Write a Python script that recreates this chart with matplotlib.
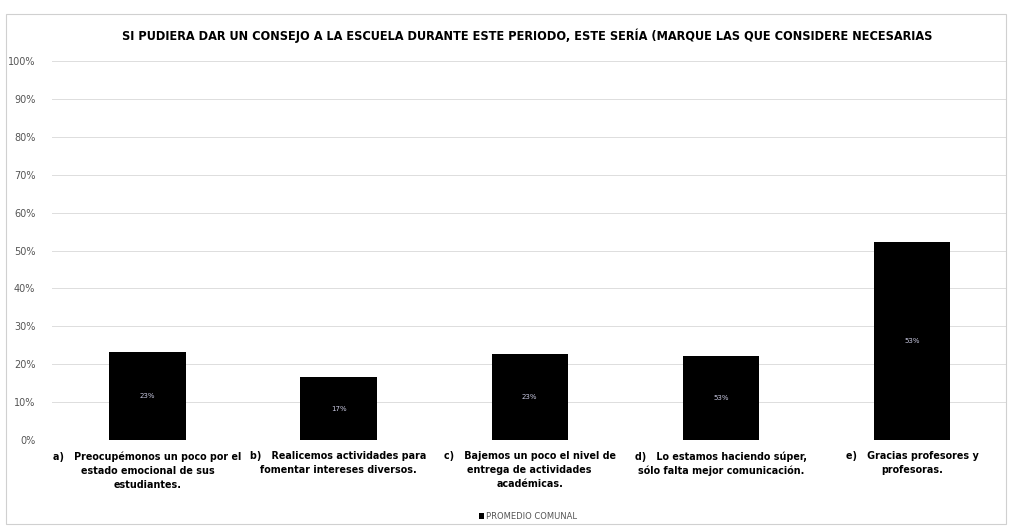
import matplotlib.pyplot as plt
from matplotlib.patches import Rectangle
from matplotlib.ticker import PercentFormatter

# datos
categorias = [
    'a)   Preocupémonos un poco por el\nestado emocional de sus\nestudiantes.',
    'b)   Realicemos actividades para\nfomentar intereses diversos.',
    'c)   Bajemos un poco el nivel de\nentrega de actividades\nacadémicas.',
    'd)   Lo estamos haciendo súper,\nsólo falta mejor comunicación.',
    'e)   Gracias profesores y\nprofesoras.',
]
valores = [0.232, 0.166, 0.227, 0.222, 0.522]
etiquetas = ['23%', '17%', '23%', '53%', '53%']
serie = 'PROMEDIO COMUNAL'
titulo = 'SI PUDIERA DAR UN CONSEJO A LA ESCUELA DURANTE ESTE PERIODO, ESTE SERÍA (MARQUE LAS QUE CONSIDERE NECESARIAS'

plt.rcParams['font.family'] = ['DejaVu Sans']

fig = plt.figure(figsize=(10.1, 5.27), dpi=100)
fig.patches.append(Rectangle((0.006, 0.005), 0.99, 0.968, transform=fig.transFigure,
                             fill=False, ec='#d0d0d0', lw=0.8))

ax = fig.add_axes([0.0515, 0.165, 0.946, 0.719])
x = range(len(categorias))
barras = ax.bar(x, valores, width=0.4, color='black', label=serie, zorder=3)

for b, t in zip(barras, etiquetas):
    ax.text(b.get_x() + b.get_width() / 2, b.get_height() / 2, t,
            ha='center', va='center', color='#c8c8e0', fontsize=5)

ax.set_xlim(-0.5, 4.5)
ax.set_ylim(0, 1)
ax.set_yticks([i / 10 for i in range(11)])
ax.yaxis.set_major_formatter(PercentFormatter(1.0, decimals=0))
ax.tick_params(axis='y', length=0, labelsize=7, labelcolor='#555555', pad=12)
ax.set_xticks(list(x))
ax.set_xticklabels(categorias, fontsize=6.9, fontweight='bold', linespacing=1.5)
ax.tick_params(axis='x', length=0, pad=8)
ax.grid(axis='y', color='#dddddd', lw=0.7, zorder=0)
for s in ax.spines.values():
    s.set_visible(False)

fig.text(0.522, 0.932, titulo, ha='center', va='center', fontsize=9.1,
         fontweight='bold', fontstretch='condensed')

fig.legend(loc='center', bbox_to_anchor=(0.523, 0.02), frameon=False, fontsize=6,
           handlelength=0.6, handleheight=0.6, handletextpad=0.3, labelcolor='#555555')

fig.savefig('out.png', dpi=100)
